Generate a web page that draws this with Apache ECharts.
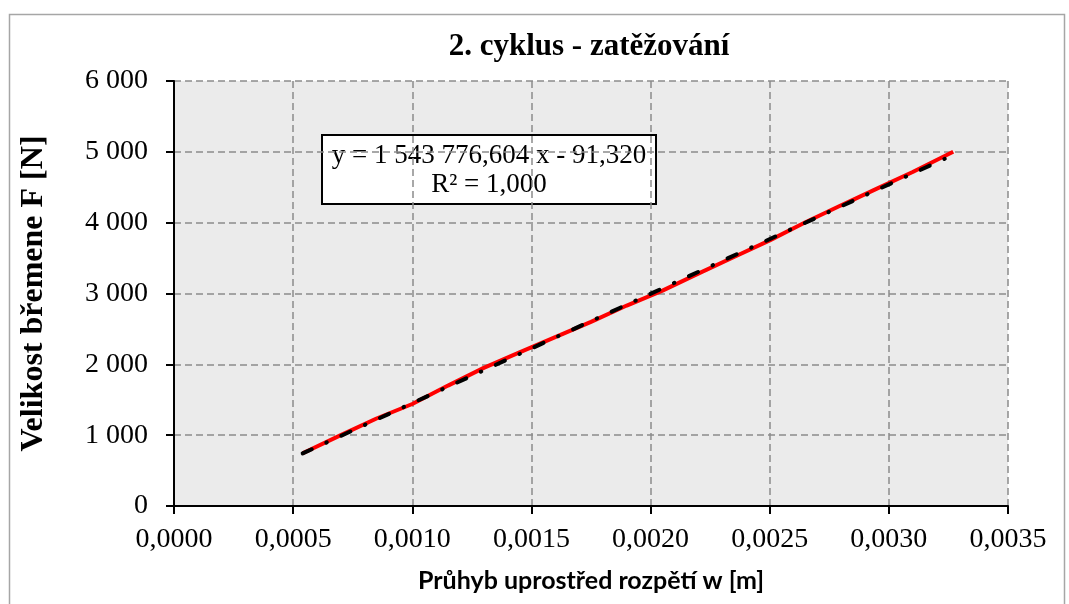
<!DOCTYPE html>
<html>
<head>
<meta charset="utf-8">
<script src="https://cdn.jsdelivr.net/npm/echarts@6/dist/echarts.min.js"></script>
<style>html,body{margin:0;padding:0;background:#fff}#c{width:1069px;height:604px}</style>
</head>
<body>
<div id="c"></div>
<script>
// Measured data (red)
var measX = [0.00054, 0.00070, 0.00085, 0.00100, 0.00115, 0.00130, 0.00145, 0.00160, 0.00175, 0.00190, 0.00205, 0.00220, 0.00235, 0.00250, 0.00265, 0.00280, 0.00295, 0.00310, 0.00327];
var measY = [745, 1000, 1235, 1440, 1700, 1950, 2170, 2385, 2600, 2830, 3040, 3280, 3515, 3750, 4005, 4245, 4480, 4715, 5000];
// Linear trendline end points (black dash-dot)
var trendX = [0.00054, 0.00327];
var trendY = [742, 4957];
// Axis ticks
var xTicks = [0, 0.0035, 0.0005];
var yTicks = [0, 6000, 1000];
var titleText = '2. cyklus - zatěžování';
var xName = 'Průhyb uprostřed rozpětí w [m]';
var yName = 'Velikost břemene F [N]';
var eqLines = ['y = 1 543 776,604 x - 91,320', 'R² = 1,000'];

var serif = '"Liberation Serif", "Times New Roman", serif';
var chart = echarts.init(document.getElementById('c'), null, {renderer: 'canvas'});
var meas = measX.map(function (x, i) { return [x, measY[i]]; });
var trend = trendX.map(function (x, i) { return [x, trendY[i]]; });
var gridLine = {show: true, lineStyle: {color: '#8c8c8c', width: 1.5, type: [7, 4]}};

chart.setOption({
  backgroundColor: '#ffffff',
  animation: false,
  title: {
    text: titleText, left: 584, top: 26, textAlign: 'center',
    textStyle: {fontFamily: serif, fontWeight: 'bold', fontSize: 31, color: '#000'}
  },
  grid: {left: 174, right: 61, top: 81, bottom: 98, show: true, backgroundColor: '#ebebeb', borderWidth: 0},
  xAxis: {
    type: 'value', min: xTicks[0], max: xTicks[1], interval: xTicks[2],
    name: xName, nameLocation: 'middle', nameGap: 62,
    nameTextStyle: {fontFamily: 'Lato, "Open Sans", sans-serif', fontWeight: 'bold', fontSize: 25, color: '#000'},
    axisLine: {show: true, onZero: false, lineStyle: {color: '#000', width: 2}},
    axisTick: {show: true, inside: false, length: 8, lineStyle: {color: '#000', width: 2}},
    axisLabel: {
      margin: 20, color: '#000', fontFamily: serif, fontSize: 28,
      formatter: function (v) { return v.toFixed(4).replace('.', ','); }
    },
    splitLine: gridLine
  },
  yAxis: {
    type: 'value', min: yTicks[0], max: yTicks[1], interval: yTicks[2],
    name: yName, nameLocation: 'middle', nameGap: 124, nameRotate: 90,
    nameTextStyle: {fontFamily: serif, fontWeight: 'bold', fontSize: 32, color: '#000'},
    axisLine: {show: true, lineStyle: {color: '#000', width: 2}},
    axisTick: {show: true, inside: false, length: 8, lineStyle: {color: '#000', width: 2}},
    axisLabel: {
      margin: 26, color: '#000', fontFamily: serif, fontSize: 28,
      formatter: function (v) { return String(v).replace(/\B(?=(\d{3})+(?!\d))/g, ' '); }
    },
    splitLine: gridLine
  },
  series: [
    {
      type: 'line', data: meas, showSymbol: false, smooth: false, z: 2,
      lineStyle: {color: '#ff0000', width: 4}
    },
    {
      type: 'line', data: trend, showSymbol: false, z: 3,
      lineStyle: {color: '#000', width: 4, type: [10, 16, 0.5, 16], cap: 'round'}
    }
  ],
  graphic: [
    {
      type: 'rect', left: 7, top: 12, z: -10, silent: true,
      shape: {width: 1055, height: 620},
      style: {fill: 'none', stroke: '#a6a6a6', lineWidth: 1.5}
    },
    {
      type: 'group', left: 321, top: 134, z: 10,
      children: [
        {
          type: 'rect', shape: {x: 0, y: 0, width: 334, height: 69},
          style: {fill: '#fff', stroke: '#000', lineWidth: 2}
        },
        {
          type: 'text', x: 167, y: 35,
          style: {
            text: eqLines.join('\n'), font: '27px ' + serif, fill: '#000',
            align: 'center', verticalAlign: 'middle', lineHeight: 29
          }
        }
      ]
    }
  ]
});
</script>
</body>
</html>
